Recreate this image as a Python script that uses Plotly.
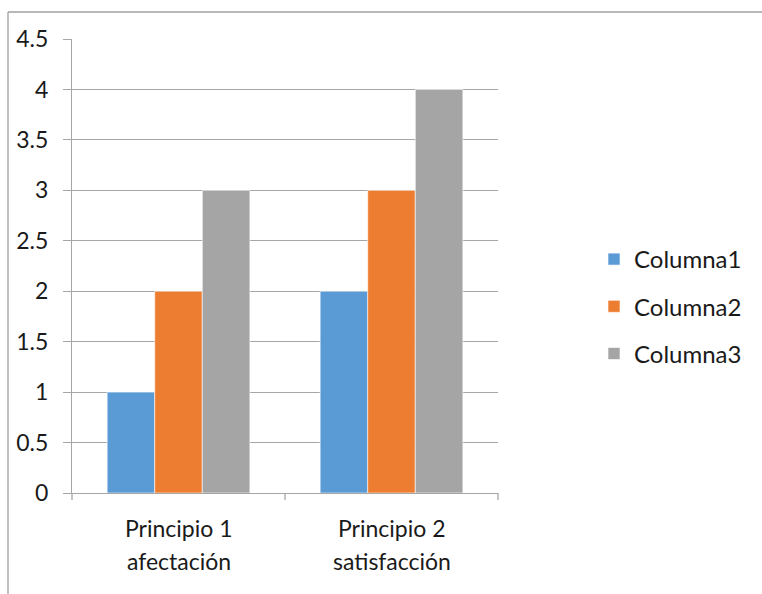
import plotly.graph_objects as go

categories = ["Principio 1 afectación", "Principio 2 satisfacción"]
label_line1 = ["Principio 1", "Principio 2"]
label_line2 = ["afectación", "satisfacción"]
series_names = ["Columna1", "Columna2", "Columna3"]
col1 = [1, 2]
col2 = [2, 3]
col3 = [3, 4]
colors = ["#5B9BD5", "#ED7D31", "#A5A5A5"]
y_ticks = [0, 0.5, 1, 1.5, 2, 2.5, 3, 3.5, 4, 4.5]
y_ticktext = ["0", "0.5", "1", "1.5", "2", "2.5", "3", "3.5", "4", "4.5"]

FONT = "Lato, Open Sans, sans-serif"
GRID = "#A6A6A6"
FS = 23

fig = go.Figure()
for name, vals, c in zip(series_names, [col1, col2, col3], colors):
    fig.add_trace(go.Bar(x=categories, y=vals, name=name, legendgroup=name,
                         marker=dict(color=c, line=dict(color="white", width=0.6))))

W, H = 762, 594
ml, mr, mt, mb = 72, 264, 39, 101
pw = W - ml - mr
ph = H - mt - mb

def px2x(px):
    return (px - ml) / pw

def py2y(py):
    return (H - mb - py) / ph

shapes = [
    dict(type="line", xref="paper", yref="paper", x0=px2x(8), x1=px2x(770),
         y0=py2y(12), y1=py2y(12), line=dict(color="#A0A0A0", width=1.3)),
    dict(type="line", xref="paper", yref="paper", x0=px2x(8), x1=px2x(8),
         y0=py2y(12), y1=py2y(600), line=dict(color="#A0A0A0", width=1.3)),
]
shapes += [
    dict(type="line", xref="paper", yref="paper", x0=xx, x1=xx, y0=0, y1=py2y(H - mb + 7),
         line=dict(color=GRID, width=1.3)) for xx in [0, 0.5, 1]
]

annotations = []
for cat, l1, l2 in zip(categories, label_line1, label_line2):
    annotations.append(dict(x=cat, xref="x", yref="paper", y=py2y(528), text=l1,
                            showarrow=False, font=dict(family=FONT, size=FS, color="#1a1a1a"),
                            yanchor="middle", xanchor="center"))
    annotations.append(dict(x=cat, xref="x", yref="paper", y=py2y(561), text=l2,
                            showarrow=False, font=dict(family=FONT, size=FS, color="#1a1a1a"),
                            yanchor="middle", xanchor="center"))

fig.update_layout(
    width=W, height=H,
    margin=dict(l=ml, r=mr, t=mt, b=mb, pad=0),
    paper_bgcolor="white", plot_bgcolor="white",
    barmode="group", bargap=0.33, bargroupgap=0,
    font=dict(family=FONT, size=FS, color="#1a1a1a"),
    showlegend=True,
    legend=dict(x=px2x(594), y=py2y(237), xanchor="left", yanchor="top",
                font=dict(family=FONT, size=24, color="#1a1a1a"),
                itemwidth=30, tracegroupgap=13, traceorder="grouped",
                bgcolor="rgba(0,0,0,0)"),
    xaxis=dict(showticklabels=False, showline=True, linecolor=GRID, linewidth=1.3,
               ticks="outside", ticklen=0, showgrid=False, zeroline=False, fixedrange=True),
    yaxis=dict(range=[0, 4.5], tickvals=y_ticks, ticktext=y_ticktext,
               showline=True, linecolor=GRID, linewidth=1.3,
               ticks="outside", ticklen=8, tickcolor=GRID, tickwidth=1.3,
               showgrid=True, gridcolor=GRID, gridwidth=1.3, zeroline=False,
               ticklabelstandoff=10, tickfont=dict(family=FONT, size=FS, color="#1a1a1a")),
    shapes=shapes,
    annotations=annotations,
)

fig.write_html("out.html")
